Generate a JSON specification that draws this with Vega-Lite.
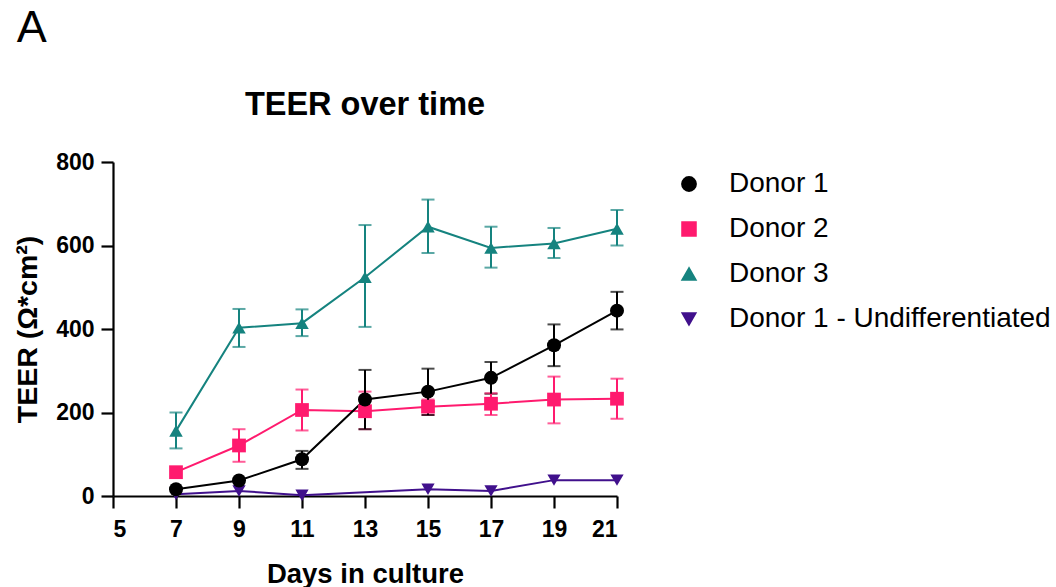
{
  "$schema": "https://vega.github.io/schema/vega-lite/v6.json",
  "background": "white",
  "padding": {"left": 13, "top": 5, "right": 2, "bottom": 5},
  "title": {"text": "A", "anchor": "start", "fontSize": 45, "fontWeight": "normal", "font": "Liberation Sans", "color": "black", "offset": 38, "dx": 3},
  "datasets": {
    "teer": [
      {"donor": "Donor 1 - Undifferentiated", "day": 7, "teer": 4},
      {"donor": "Donor 1 - Undifferentiated", "day": 9, "teer": 12},
      {"donor": "Donor 1 - Undifferentiated", "day": 11, "teer": 2},
      {"donor": "Donor 1 - Undifferentiated", "day": 15, "teer": 16},
      {"donor": "Donor 1 - Undifferentiated", "day": 17, "teer": 12},
      {"donor": "Donor 1 - Undifferentiated", "day": 19, "teer": 38},
      {"donor": "Donor 1 - Undifferentiated", "day": 21, "teer": 38},
      {"donor": "Donor 3", "day": 7, "teer": 156, "lo": 114, "hi": 200},
      {"donor": "Donor 3", "day": 9, "teer": 403, "lo": 357, "hi": 448},
      {"donor": "Donor 3", "day": 11, "teer": 414, "lo": 383, "hi": 447},
      {"donor": "Donor 3", "day": 13, "teer": 524, "lo": 405, "hi": 649},
      {"donor": "Donor 3", "day": 15, "teer": 645, "lo": 582, "hi": 710},
      {"donor": "Donor 3", "day": 17, "teer": 594, "lo": 547, "hi": 645},
      {"donor": "Donor 3", "day": 19, "teer": 605, "lo": 570, "hi": 642},
      {"donor": "Donor 3", "day": 21, "teer": 640, "lo": 600, "hi": 685},
      {"donor": "Donor 2", "day": 7, "teer": 57},
      {"donor": "Donor 2", "day": 9, "teer": 121, "lo": 82, "hi": 160},
      {"donor": "Donor 2", "day": 11, "teer": 206, "lo": 157, "hi": 255},
      {"donor": "Donor 2", "day": 13, "teer": 203, "lo": 160, "hi": 250},
      {"donor": "Donor 2", "day": 15, "teer": 214, "lo": 194, "hi": 231},
      {"donor": "Donor 2", "day": 17, "teer": 221, "lo": 194, "hi": 246},
      {"donor": "Donor 2", "day": 19, "teer": 231, "lo": 174, "hi": 286},
      {"donor": "Donor 2", "day": 21, "teer": 233, "lo": 185, "hi": 281},
      {"donor": "Donor 1", "day": 7, "teer": 16},
      {"donor": "Donor 1", "day": 9, "teer": 37},
      {"donor": "Donor 1", "day": 11, "teer": 88, "lo": 65, "hi": 108},
      {"donor": "Donor 1", "day": 13, "teer": 231, "lo": 160, "hi": 302},
      {"donor": "Donor 1", "day": 15, "teer": 250, "lo": 194, "hi": 305},
      {"donor": "Donor 1", "day": 17, "teer": 283, "lo": 245, "hi": 321},
      {"donor": "Donor 1", "day": 19, "teer": 361, "lo": 311, "hi": 411},
      {"donor": "Donor 1", "day": 21, "teer": 444, "lo": 399, "hi": 489}
    ]
  },
  "vconcat": [
    {
      "title": {"text": "TEER over time", "fontSize": 32.5, "fontWeight": "bold", "font": "Liberation Sans", "color": "black", "offset": 30},
      "width": 504,
      "height": 334,
      "data": {"name": "teer"},
      "layer": [
        {
          "transform": [{"filter": "datum.lo != null"}],
          "mark": {"type": "errorbar", "thickness": 2, "ticks": {"size": 13, "thickness": 2}},
          "encoding": {
            "x": {"field": "day", "type": "quantitative"},
            "y": {"field": "lo", "type": "quantitative"},
            "y2": {"field": "hi"},
            "color": {"field": "donor", "type": "nominal"}
          }
        },
        {
          "mark": {"type": "line", "strokeWidth": 2},
          "encoding": {
            "x": {"field": "day", "type": "quantitative"},
            "y": {"field": "teer", "type": "quantitative"},
            "color": {"field": "donor", "type": "nominal"}
          }
        },
        {
          "mark": {"type": "point", "filled": true, "opacity": 1},
          "encoding": {
            "x": {"field": "day", "type": "quantitative"},
            "y": {"field": "teer", "type": "quantitative"},
            "color": {"field": "donor", "type": "nominal"},
            "shape": {"field": "donor", "type": "nominal", "legend": null,
              "scale": {"domain": ["Donor 1", "Donor 2", "Donor 3", "Donor 1 - Undifferentiated"], "range": ["circle", "square", "triangle-up", "triangle-down"]}},
            "size": {"field": "donor", "type": "nominal", "legend": null,
              "scale": {"domain": ["Donor 1", "Donor 2", "Donor 3", "Donor 1 - Undifferentiated"], "range": [196, 175, 200, 190]}}
          }
        }
      ],
      "encoding": {
        "x": {"field": "day", "type": "quantitative", "title": "Days in culture",
          "scale": {"domain": [5, 21], "nice": false, "zero": false},
          "axis": {"values": [5, 7, 9, 11, 13, 15, 17, 19, 21]}},
        "y": {"field": "teer", "type": "quantitative", "title": "TEER (Ω*cm²)",
          "scale": {"domain": [0, 800], "nice": false},
          "axis": {"values": [0, 200, 400, 600, 800]}},
        "color": {"field": "donor", "type": "nominal", "title": null,
          "scale": {"domain": ["Donor 1", "Donor 2", "Donor 3", "Donor 1 - Undifferentiated"], "range": ["#000000", "#FF1A6E", "#15837F", "#40108C"]},
          "legend": {
            "orient": "none", "legendX": 562, "legendY": 8,
            "labelOffset": 26, "rowPadding": 17, "symbolStrokeWidth": 1.8, "symbolOpacity": 1,
            "labelFontSize": 28, "labelFont": "Liberation Sans", "labelColor": "black", "labelLimit": 500
          }}
      }
    }
  ],
  "config": {
    "view": {"stroke": null},
    "font": "Liberation Sans",
    "axis": {
      "grid": false, "domainColor": "black", "domainWidth": 2.2, "tickColor": "black", "tickWidth": 2.2, "tickSize": 12,
      "labelFont": "Liberation Sans", "labelFontSize": 23, "labelFontWeight": "bold", "labelColor": "black", "labelPadding": 7,
      "titleFont": "Liberation Sans", "titleFontSize": 27.5, "titleFontWeight": "bold", "titleColor": "black"
    },
    "axisX": {"titlePadding": 19, "labelPadding": 10},
    "axisY": {"titlePadding": 13, "titleFontSize": 28.5}
  }
}
